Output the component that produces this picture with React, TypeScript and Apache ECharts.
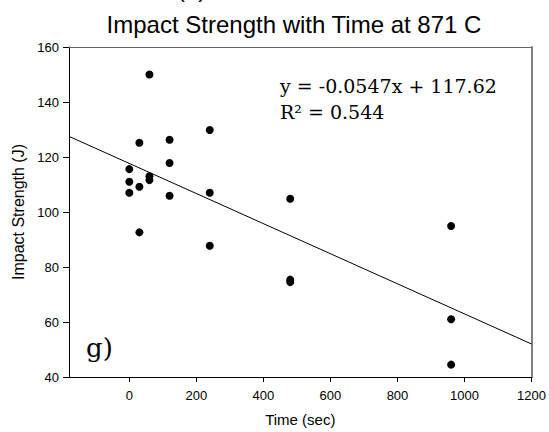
import React, { useEffect, useRef } from "react";
import * as echarts from "echarts";

const timeSec = [0, 0, 0, 30, 30, 30, 60, 60, 60, 120, 120, 120, 240, 240, 240, 480, 480, 480, 960, 960, 960];
const impactJ = [115.6, 111, 107, 125.2, 109.2, 92.6, 150, 113, 111.6, 126.3, 117.8, 105.9, 129.8, 107, 87.7, 104.8, 75.4, 74.5, 94.9, 61, 44.5];
const trendX = [-180, 1200];
const trendY = [127.5, 52];
const xTicks = [0, 200, 400, 600, 800, 1000, 1200];
const yTicks = [40, 60, 80, 100, 120, 140, 160];
const titleText = "Impact Strength with Time at 871 C";
const eqLine1 = "y = -0.0547x + 117.62";
const eqLine2 = "R\u00B2 = 0.544";
const panelLabel = "g)";

export default function App() {
  const ref = useRef<HTMLDivElement>(null);
  useEffect(() => {
    if (!ref.current) return;
    const chart = echarts.init(ref.current, null, { renderer: "svg" });
    const points = timeSec.map((t, i) => [t, impactJ[i]]);
    const trend = trendX.map((t, i) => [t, trendY[i]]);
    const sans = "'Liberation Sans', Arial, sans-serif";
    chart.setOption({
      animation: false,
      backgroundColor: "#ffffff",
      title: {
        text: titleText,
        left: 289,
        top: 7,
        textAlign: "center",
        textStyle: { fontFamily: sans, fontSize: 24, fontWeight: "normal", color: "#000" },
      },
      grid: { left: 69, right: 16, top: 47, bottom: 55 },
      xAxis: [
        {
          type: "value",
          min: -180,
          max: 1200,
          name: "Time (sec)",
          nameLocation: "middle",
          nameGap: 35,
          nameTextStyle: { fontFamily: sans, fontSize: 15, color: "#000" },
          axisLine: { onZero: false, lineStyle: { color: "#000", width: 1 } },
          axisTick: { show: true, length: 5, customValues: xTicks, lineStyle: { color: "#000" } },
          axisLabel: { customValues: xTicks, margin: 12, fontFamily: sans, fontSize: 13, color: "#000", formatter: (v: number) => String(v) },
          splitLine: { show: false },
        },
        {
          type: "value",
          position: "top",
          min: -180,
          max: 1200,
          axisLine: { show: true, onZero: false, lineStyle: { color: "#666", width: 1 } },
          axisTick: { show: false },
          axisLabel: { show: false },
          splitLine: { show: false },
        },
      ],
      yAxis: [
        {
          type: "value",
          min: 40,
          max: 160,
          interval: 20,
          name: "Impact Strength (J)",
          nameLocation: "middle",
          nameGap: 40,
          nameTextStyle: { fontFamily: sans, fontSize: 16, color: "#000" },
          axisLine: { show: true, onZero: false, lineStyle: { color: "#000", width: 1 } },
          axisTick: { show: true, length: 6, lineStyle: { color: "#000" } },
          axisLabel: { margin: 10, fontFamily: sans, fontSize: 13, color: "#000", customValues: yTicks, formatter: (v: number) => String(v) },
          splitLine: { show: false },
        },
        {
          type: "value",
          position: "right",
          min: 40,
          max: 160,
          interval: 20,
          axisLine: { show: true, onZero: false, lineStyle: { color: "#808080", width: 2 } },
          axisTick: { show: false },
          axisLabel: { show: false },
          splitLine: { show: false },
        },
      ],
      series: [
        {
          type: "line",
          data: trend,
          symbol: "none",
          lineStyle: { color: "#000", width: 1 },
          z: 2,
        },
        {
          type: "scatter",
          data: points,
          symbol: "circle",
          symbolSize: 8,
          itemStyle: { color: "#000", opacity: 1 },
          z: 3,
        },
      ],
      graphic: [
        {
          type: "text",
          left: 177,
          top: -24,
          style: { text: "(a)", fontFamily: sans, fontSize: 24, fill: "#000" },
        },
        {
          type: "text",
          x: 280,
          y: 76,
          style: { text: eqLine1, fontFamily: "DejaVu Serif", fontSize: 19, fill: "#000" },
        },
        {
          type: "text",
          x: 280,
          y: 102,
          style: { text: eqLine2, fontFamily: "DejaVu Serif", fontSize: 19, fill: "#000" },
        },
        {
          type: "text",
          x: 86,
          y: 335,
          style: { text: panelLabel, fontFamily: "DejaVu Serif", fontSize: 26, fill: "#000" },
        },
      ],
    });
    return () => chart.dispose();
  }, []);
  return <div ref={ref} style={{ position: "fixed", left: 0, top: 0, width: 549, height: 432 }} />;
}
